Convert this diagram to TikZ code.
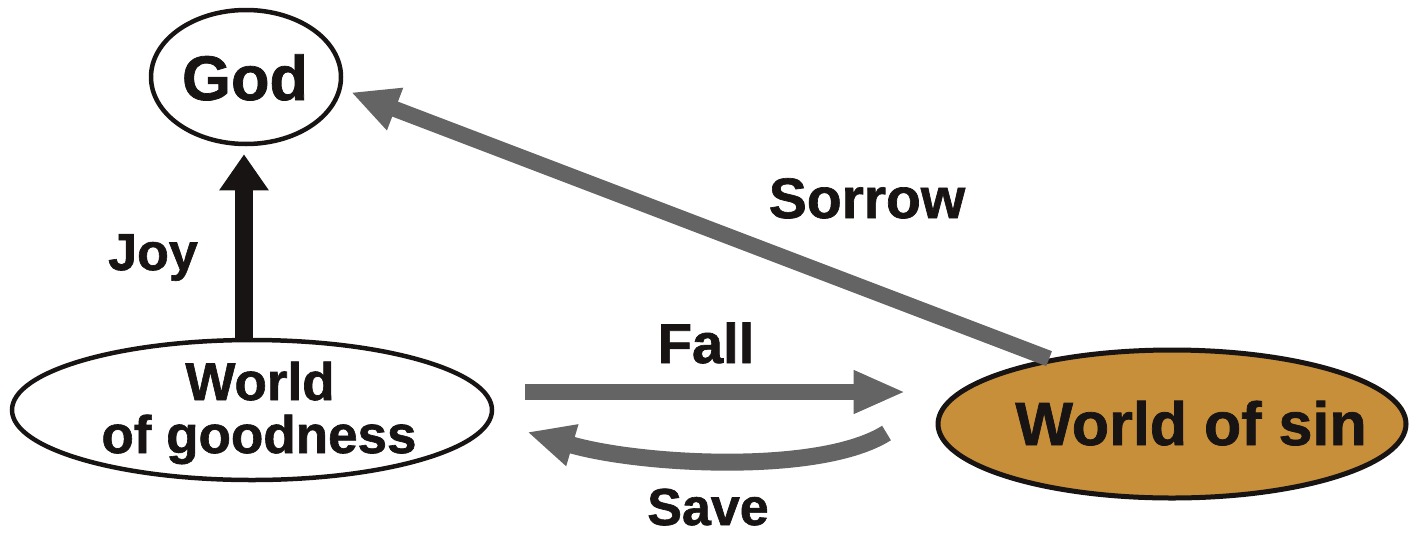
\documentclass[tikz,border=0pt]{standalone}
\usepackage{fontspec}
\setmainfont{Liberation Sans}[BoldFeatures={FakeBold=1.2}]
\usetikzlibrary{arrows.meta,shapes.geometric}
\definecolor{sinfill}{RGB}{200,143,58}
\definecolor{arrgray}{RGB}{100,100,100}
\definecolor{ink}{RGB}{25,20,20}
\tikzset{
  oval/.style={ellipse,draw=ink,line width=4.5pt,inner sep=0pt},
  lbl/.style={text=ink,font=\bfseries,anchor=base,inner sep=0pt},
  grayarrow/.style={draw=arrgray,line width=16pt},
}
\newcommand{\fs}[1]{\fontsize{#1}{#1}\selectfont}
\begin{document}
\begin{tikzpicture}[x=1pt,y=-1pt]
\useasboundingbox (0,0) rectangle (1410,536);
\node[oval,minimum width=190pt,minimum height=134pt] (god) at (246,77) {};
\node[oval,minimum width=480pt,minimum height=140pt] (wog) at (252,410) {};
\node[oval,fill=sinfill,line width=5pt,minimum width=468pt,minimum height=148pt] (wos) at (1172,424) {};
% texts
\node[lbl,font=\bfseries\fs{63}] (godtxt) at (245,100) {God};
\node[lbl,font=\bfseries\fs{53}] (wogtxt1) at (260,400) {World};
\node[lbl,font=\bfseries\fs{53}] (wogtxt2) at (259,453) {of goodness};
\node[lbl,font=\bfseries\fs{61}] (wostxt) at (1191,445) {World of sin};
\node[lbl,font=\bfseries\fs{52}] (joy) at (153,270) {Joy};
\node[lbl,font=\bfseries\fs{57}] (sorrow) at (867,218) {Sorrow};
\node[lbl,font=\bfseries\fs{56}] (fall) at (706,363) {Fall};
\node[lbl,font=\bfseries\fs{52}] (save) at (708,525) {Save};
% Joy arrow
\draw[draw=ink,line width=18pt,-{Triangle[length=36pt,width=47pt]}]
  ([xshift=-2pt]god.south |- wog.north) -- ([shift={(-2,8)}]god.south);
% Sorrow arrow
\draw[grayarrow,-{Triangle[length=47pt,width=42pt]},shorten >=10pt]
  (wos.152) -- (god.-7);
% Fall arrow
\draw[grayarrow,-{Triangle[length=52pt,width=40pt]}]
  ([shift={(31,-18)}]wog.east) -- ([shift={(-30,-32)}]wos.west);
% Save arrow
\draw[grayarrow,line width=17pt,-{Triangle[length=47pt,width=40pt]}]
  ([shift={(-49,9)}]wos.west) .. controls (820,475) and (640,465) .. ([shift={(33,22)}]wog.east);
\end{tikzpicture}
\end{document}
